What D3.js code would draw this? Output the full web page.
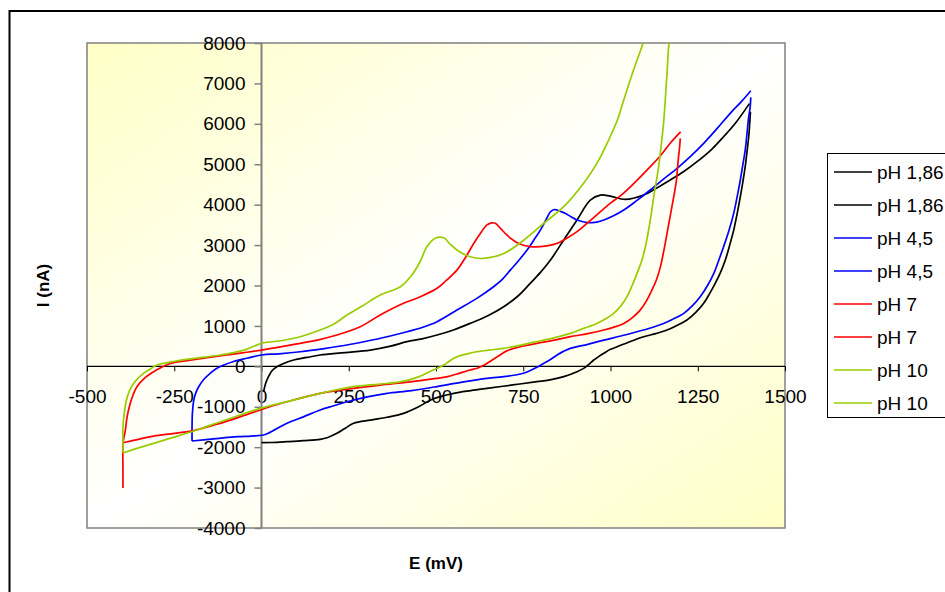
<!DOCTYPE html>
<html>
<head>
<meta charset="utf-8">
<script src="https://cdn.jsdelivr.net/npm/d3@7"></script>
<style>
  html, body { margin: 0; padding: 0; background: #fff; }
  svg { display: block; font-family: 'Liberation Sans', Arial, sans-serif; }
</style>
</head>
<body>
<div id="chart"></div>
<script>
// Axis ticks
const xTicks = [-500, -250, 0, 250, 500, 750, 1000, 1250, 1500]
const yTicks = [-4000, -3000, -2000, -1000, 0, 1000, 2000, 3000, 4000, 5000, 6000, 7000, 8000]

// Series names and colours (legend order)
const seriesNames = ['pH 1,86', 'pH 1,86', 'pH 4,5', 'pH 4,5', 'pH 7', 'pH 7', 'pH 10', 'pH 10']
const seriesColors = ['#000000', '#000000', '#0000ff', '#0000ff', '#ff0000', '#ff0000', '#99cc00', '#99cc00']

// [E (mV), I (nA)]
const ph186Fwd = [[6,-628],[12,-420],[20,-256],[30,-110],[44,-10],[60,60],[92,156],[130,220],[168,280],[240,340],[312,403],[370,500],[417,610],[460,680],[503,774],[550,900],[598,1064],[650,1260],[694,1475],[735,1740],[770,2053],[800,2330],[828,2630],[866,3125],[904,3620],[942,4114],[971,4238],[999,4213],[1042,4130],[1095,4238],[1130,4400],[1171,4610],[1210,4820],[1248,5063],[1290,5370],[1324,5680],[1360,6040],[1398,6500]]
const ph186Rev = [[1401,6300],[1398,5900],[1396,5680],[1391,5300],[1386,4940],[1379,4550],[1372,4200],[1363,3780],[1353,3370],[1341,2980],[1329,2630],[1315,2320],[1300,2053],[1284,1800],[1267,1560],[1245,1340],[1219,1145],[1190,1010],[1162,898],[1130,810],[1095,733],[1055,610],[1019,485],[1000,420],[981,322],[966,240],[952,156],[938,50],[923,-50],[904,-133],[866,-256],[830,-330],[789,-380],[720,-460],[646,-545],[600,-600],[551,-668],[493,-800],[450,-1000],[407,-1163],[360,-1260],[312,-1330],[264,-1410],[240,-1530],[216,-1658],[190,-1760],[168,-1806],[120,-1840],[73,-1865],[30,-1885],[0,-1890]]
const ph45Fwd = [[-199,-1848],[-199,-1500],[-198,-1163],[-194,-834],[-188,-650],[-180,-504],[-165,-320],[-147,-173],[-130,-60],[-108,32],[-80,120],[-42,200],[1,280],[50,310],[111,361],[180,440],[245,527],[300,620],[360,733],[417,856],[460,960],[503,1105],[560,1393],[617,1682],[665,1970],[690,2150],[713,2380],[737,2620],[761,2877],[780,3120],[799,3370],[815,3620],[828,3825],[840,3880],[847,3867],[858,3830],[870,3785],[887,3700],[904,3620],[937,3553],[960,3570],[981,3620],[1010,3730],[1038,3867],[1075,4100],[1114,4362],[1150,4620],[1191,4900],[1230,5200],[1267,5517],[1305,5880],[1343,6260],[1375,6550],[1402,6820]]
const ph45Rev = [[1402,6655],[1400,6400],[1396,6175],[1391,5750],[1386,5350],[1379,4980],[1372,4610],[1363,4200],[1353,3785],[1339,3350],[1324,2960],[1310,2620],[1296,2300],[1278,2000],[1257,1720],[1235,1500],[1210,1310],[1180,1170],[1152,1060],[1115,950],[1076,856],[1030,750],[981,650],[935,545],[885,445],[865,370],[847,280],[828,170],[809,74],[789,-25],[766,-120],[742,-190],[700,-250],[646,-297],[575,-390],[503,-500],[430,-600],[360,-668],[300,-760],[245,-875],[205,-980],[168,-1080],[120,-1250],[73,-1410],[40,-1560],[6,-1700],[-30,-1725],[-70,-1740],[-130,-1790],[-199,-1848]]
const ph7Fwd = [[-397,-3010],[-397,-2500],[-397,-1905],[-394,-1750],[-390,-1576],[-386,-1300],[-381,-1080],[-372,-800],[-357,-504],[-335,-290],[-309,-133],[-290,-40],[-261,74],[-213,140],[-150,220],[-99,280],[1,403],[111,570],[160,650],[216,774],[283,980],[340,1270],[407,1560],[455,1720],[503,1930],[530,2130],[560,2380],[585,2700],[608,3040],[628,3300],[646,3500],[660,3550],[670,3540],[686,3400],[703,3250],[720,3130],[737,3040],[770,2960],[818,2980],[850,3050],[875,3170],[905,3340],[933,3540],[965,3780],[999,4030],[1030,4230],[1057,4440],[1085,4680],[1114,4940],[1145,5230],[1171,5520],[1201,5800]]
const ph7Rev = [[1200,5640],[1198,5420],[1195,5190],[1192,4900],[1189,4610],[1183,4280],[1176,3950],[1169,3620],[1162,3290],[1153,2870],[1143,2460],[1132,2150],[1119,1890],[1103,1620],[1085,1390],[1062,1200],[1038,1060],[1010,970],[981,898],[935,810],[885,733],[840,650],[789,570],[755,510],[723,445],[700,370],[680,260],[660,150],[640,40],[620,-40],[590,-110],[560,-190],[530,-260],[500,-300],[420,-390],[340,-463],[264,-544],[168,-670],[73,-875],[30,-980],[-3,-1080],[-45,-1200],[-89,-1330],[-140,-1460],[-194,-1590],[-250,-1660],[-309,-1725],[-350,-1800],[-397,-1890]]
const ph10Fwd = [[-397,-2137],[-397,-1800],[-397,-1494],[-393,-1150],[-387,-834],[-378,-600],[-366,-420],[-352,-280],[-338,-173],[-320,-70],[-299,32],[-252,120],[-180,210],[-118,280],[-50,400],[1,570],[60,640],[111,733],[168,898],[210,1060],[245,1270],[290,1500],[340,1764],[398,1970],[431,2260],[455,2600],[474,2960],[498,3170],[522,3180],[540,3030],[560,2880],[598,2710],[637,2670],[694,2790],[751,3120],[809,3540],[866,3950],[923,4530],[961,5020],[999,5680],[1020,6100],[1038,6590],[1066,7330],[1093,7990],[1100,8200]]
const ph10Rev = [[1175,8200],[1168,7990],[1162,7250],[1152,6010],[1145,5450],[1138,4940],[1124,4200],[1114,3620],[1100,2960],[1089,2600],[1076,2300],[1062,2000],[1047,1720],[1030,1500],[1009,1310],[985,1170],[961,1060],[920,930],[885,816],[840,710],[789,610],[740,520],[694,445],[650,400],[617,361],[590,310],[560,238],[540,140],[522,32],[492,-92],[450,-260],[400,-380],[340,-440],[264,-504],[168,-670],[73,-875],[-3,-1040],[-60,-1200],[-118,-1370],[-185,-1576],[-250,-1750],[-309,-1905],[-350,-2010],[-395,-2137]]

const seriesData = [ph186Fwd, ph186Rev, ph45Fwd, ph45Rev, ph7Fwd, ph7Rev, ph10Fwd, ph10Rev]

const W = 945, H = 592
const plot = { left: 87, right: 785, top: 43, bottom: 528 }

const svg = d3.select('#chart')
  .append('svg')
  .attr('width', W)
  .attr('height', H)

// Outer chart frame (runs off the page on the right and bottom)
svg.append('rect')
  .attr('x', 9.5).attr('y', 11)
  .attr('width', 1000).attr('height', 1000)
  .attr('fill', '#fff')
  .attr('stroke', '#000')
  .attr('stroke-width', 2)

// Plot area background gradient
const defs = svg.append('defs')
const grad = defs.append('linearGradient')
  .attr('id', 'bg')
  .attr('x1', 0).attr('y1', 0).attr('x2', 1).attr('y2', 1)
grad.append('stop').attr('offset', '0%').attr('stop-color', '#ffffc6')
grad.append('stop').attr('offset', '50%').attr('stop-color', '#ffffff')
grad.append('stop').attr('offset', '100%').attr('stop-color', '#ffffc6')

defs.append('clipPath').attr('id', 'clip')
  .append('rect')
  .attr('x', plot.left).attr('y', plot.top)
  .attr('width', plot.right - plot.left).attr('height', plot.bottom - plot.top)

svg.append('rect')
  .attr('x', plot.left).attr('y', plot.top)
  .attr('width', plot.right - plot.left).attr('height', plot.bottom - plot.top)
  .attr('fill', 'url(#bg)')
  .attr('stroke', '#808080')
  .attr('stroke-width', 1.5)

// Scales
const x = d3.scaleLinear().domain([-500, 1500]).range([plot.left, plot.right])
const y = d3.scaleLinear().domain([-4000, 8000]).range([plot.bottom, plot.top])
const plainNum = d => String(d) // Excel style: hyphen minus, no thousands separator

// X axis crosses at I = 0
svg.append('g')
  .attr('transform', `translate(0,${y(0)})`)
  .call(d3.axisBottom(x).tickValues(xTicks).tickFormat(plainNum).tickSize(5).tickPadding(18))
  .call(g => g.select('.domain').remove())
  .call(g => g.selectAll('.tick line').attr('stroke', '#000'))
  .call(g => g.selectAll('.tick text').attr('font-size', 19).attr('fill', '#000')
    .attr('font-family', "'Liberation Sans', Arial, sans-serif"))
svg.append('line')
  .attr('x1', plot.left).attr('x2', plot.right)
  .attr('y1', y(0)).attr('y2', y(0))
  .attr('stroke', '#000').attr('stroke-width', 1.2)

// Y axis crosses at E = 0
svg.append('g')
  .attr('transform', `translate(${x(0)},0)`)
  .call(d3.axisLeft(y).tickValues(yTicks).tickFormat(plainNum).tickSize(7).tickPadding(9))
  .call(g => g.select('.domain').remove())
  .call(g => g.selectAll('.tick line').attr('stroke', '#808080').attr('stroke-width', 1.5))
  .call(g => g.selectAll('.tick text').attr('font-size', 19).attr('fill', '#000')
    .attr('font-family', "'Liberation Sans', Arial, sans-serif"))
svg.append('line')
  .attr('x1', x(0)).attr('x2', x(0))
  .attr('y1', plot.top).attr('y2', plot.bottom)
  .attr('stroke', '#808080').attr('stroke-width', 2)

// Curves
const line = d3.line()
  .x(d => x(d[0]))
  .y(d => y(d[1]))
  .curve(d3.curveCatmullRom.alpha(0.5))

svg.append('g')
  .attr('clip-path', 'url(#clip)')
  .selectAll('path')
  .data(seriesData)
  .join('path')
  .attr('fill', 'none')
  .attr('stroke', (d, i) => seriesColors[i])
  .attr('stroke-width', 1.7)
  .attr('stroke-linejoin', 'round')
  .attr('d', line)

// Axis titles
svg.append('text')
  .attr('x', (plot.left + plot.right) / 2)
  .attr('y', 569)
  .attr('text-anchor', 'middle')
  .attr('font-size', 17)
  .attr('font-weight', 'bold')
  .text('E (mV)')

svg.append('text')
  .attr('transform', `translate(49,${(plot.top + plot.bottom) / 2}) rotate(-90)`)
  .attr('text-anchor', 'middle')
  .attr('font-size', 17)
  .attr('font-weight', 'bold')
  .text('I (nA)')

// Legend
const legend = svg.append('g').attr('transform', 'translate(827,153)')
legend.append('rect')
  .attr('x', 0.5).attr('y', 0.5)
  .attr('width', 160).attr('height', 264)
  .attr('fill', '#fff')
  .attr('stroke', '#000')
  .attr('stroke-width', 1)

const rows = legend.selectAll('g.row')
  .data(seriesNames)
  .join('g')
  .attr('class', 'row')
  .attr('transform', (d, i) => `translate(0,${19 + i * 33})`)
rows.append('line')
  .attr('x1', 7).attr('x2', 45)
  .attr('stroke', (d, i) => seriesColors[i])
  .attr('stroke-width', 1.7)
rows.append('text')
  .attr('x', 50)
  .attr('dy', '0.35em')
  .attr('font-size', 19)
  .text(d => d)
</script>
</body>
</html>
